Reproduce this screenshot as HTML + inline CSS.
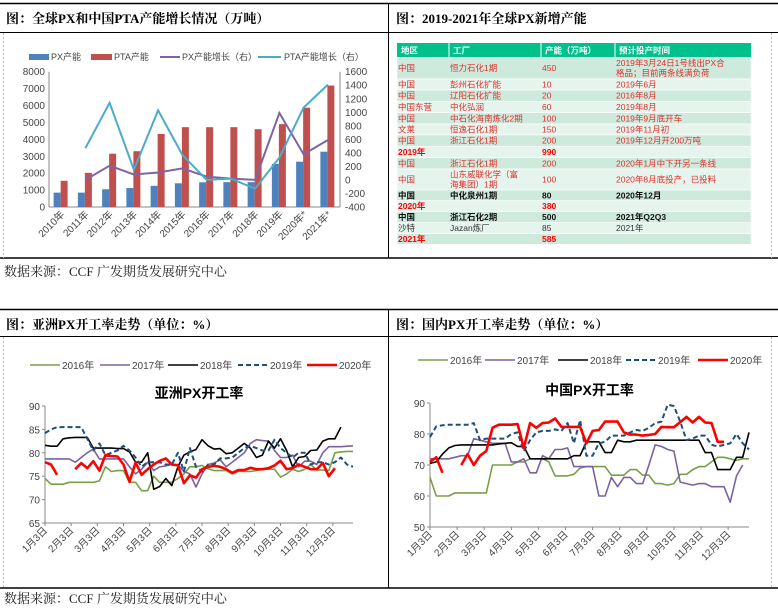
<!DOCTYPE html>
<html><head><meta charset="utf-8">
<style>
html,body{margin:0;padding:0;background:#fff;width:778px;height:608px;overflow:hidden;}
svg{display:block;font-family:"Liberation Sans","Noto Sans CJK SC",sans-serif;}
.ttl{font-family:"Liberation Serif","Noto Serif CJK SC",serif;font-weight:bold;font-size:13px;fill:#000;}
.src{font-family:"Liberation Serif","Noto Serif CJK SC",serif;font-size:13px;fill:#222;}
.tk{font-size:10px;fill:#444;}
.lg{font-size:9px;fill:#444;}
.tb{font-size:8.5px;}
</style></head>
<body>
<svg id="root" width="778" height="608" viewBox="0 0 778 608" xmlns="http://www.w3.org/2000/svg">
<g stroke="#000" fill="none">
<line x1="0" y1="3.5" x2="778" y2="3.5" stroke-width="1.5"/>
<line x1="0" y1="32.5" x2="778" y2="32.5"/>
<line x1="0" y1="258" x2="778" y2="258" stroke-width="1.5"/>
<line x1="388.5" y1="3" x2="388.5" y2="258"/>
<line x1="0" y1="309.5" x2="778" y2="309.5" stroke-width="1.5"/>
<line x1="0" y1="336.5" x2="778" y2="336.5"/>
<line x1="0" y1="588" x2="778" y2="588" stroke-width="1.5"/>
<line x1="388.5" y1="309" x2="388.5" y2="588"/>
<line x1="3.5" y1="33" x2="3.5" y2="258" stroke="#bbb" stroke-dasharray="2,2"/>
<line x1="771.5" y1="33" x2="771.5" y2="258" stroke="#bbb" stroke-dasharray="2,2"/>
<line x1="3.5" y1="337" x2="3.5" y2="588" stroke="#bbb" stroke-dasharray="2,2"/>
<line x1="771.5" y1="337" x2="771.5" y2="588" stroke="#bbb" stroke-dasharray="2,2"/>
</g>
<text class="ttl" x="6" y="23">图：全球PX和中国PTA产能增长情况（万吨）</text>
<text class="ttl" x="396" y="23">图：2019-2021年全球PX新增产能</text>
<text class="src" x="4" y="276">数据来源：CCF  广发期货发展研究中心</text>
<text class="ttl" x="6" y="329">图：亚洲PX开工率走势（单位：%）</text>
<text class="ttl" x="396" y="329">图：国内PX开工率走势（单位：%）</text>
<text class="src" x="4" y="603">数据来源：CCF  广发期货发展研究中心</text>
<g id="c1"></g>
<g id="tbl"></g>
<g id="c2"></g>
<g id="c3"></g>
</svg>
<script>
const NS="http://www.w3.org/2000/svg";
function mk(p,t,a,txt){const e=document.createElementNS(NS,t);for(const k in a)e.setAttribute(k,a[k]);if(txt!=null)e.textContent=txt;p.appendChild(e);return e;}

// ===== Chart 1 data =====
const years=["2010年","2011年","2012年","2013年","2014年","2015年","2016年","2017年","2018年","2019年","2020年*","2021年*"];
const pxCap=[850,850,1050,1120,1250,1400,1460,1470,1470,2550,2680,3270];
const ptaCap=[1550,2020,3150,3300,4320,4720,4720,4720,4600,4900,5870,7180];
const pxGrowth=[null,0,210,80,110,170,50,20,0,990,380,590];
const ptaGrowth=[null,470,1140,150,1030,370,0,20,-130,330,1070,1410];
const leftTicks=[0,1000,2000,3000,4000,5000,6000,7000,8000];
const rightTicks=[-400,-200,0,200,400,600,800,1000,1200,1400,1600];

(function(){
const g=document.getElementById('c1');
const L=49,R=340,T=71.7,B=207;
const yl=v=>B-(v/8000)*(B-T);
const yr=v=>B-((v+400)/2000)*(B-T);
const bw=(R-L)/years.length;
const xc=i=>L+bw*(i+0.5);
mk(g,'line',{x1:L,y1:T,x2:L,y2:B,stroke:'#888'});
mk(g,'line',{x1:R,y1:T,x2:R,y2:B,stroke:'#888'});
mk(g,'line',{x1:L,y1:B,x2:R,y2:B,stroke:'#888'});
leftTicks.forEach(v=>{const t=mk(g,'text',{x:L-4,y:yl(v)+3.5,'text-anchor':'end',class:'tk'},String(v));

});
rightTicks.forEach(v=>{const t=mk(g,'text',{x:R+5,y:yr(v)+3.5,class:'tk'},String(v));

});
years.forEach((y,i)=>{
 const b1=mk(g,'rect',{x:xc(i)-7.5,y:yl(pxCap[i]),width:7,height:B-yl(pxCap[i]),fill:'#4f81bd'});
 
 
 const b2=mk(g,'rect',{x:xc(i)-0.5,y:yl(ptaCap[i]),width:7,height:B-yl(ptaCap[i]),fill:'#c0504d'});
 
 
 const t=mk(g,'text',{x:xc(i)+4,y:B+8,'text-anchor':'end',class:'tk',transform:`rotate(-45 ${xc(i)+4} ${B+8})`},y);
 
 
});
function line(arr,col,name){let d='';arr.forEach((v,i)=>{if(v==null)return;d+=(d?'L':'M')+xc(i).toFixed(1)+','+yr(v).toFixed(1);});
 const p=mk(g,'path',{d:d,fill:'none',stroke:col,'stroke-width':2});
 
 }
line(pxGrowth,'#8064a2','px-growth-line');
line(ptaGrowth,'#4bacc6','pta-growth-line');
const lg=mk(g,'g',{});


mk(lg,'rect',{x:29,y:54,width:20,height:6,fill:'#4f81bd'});mk(lg,'text',{x:51,y:60,class:'lg'},'PX产能');
mk(lg,'rect',{x:91,y:54,width:21,height:6,fill:'#c0504d'});mk(lg,'text',{x:114,y:60,class:'lg'},'PTA产能');
mk(lg,'line',{x1:160,y1:57,x2:180,y2:57,stroke:'#8064a2','stroke-width':2});mk(lg,'text',{x:182,y:60,class:'lg'},'PX产能增长（右）');
mk(lg,'line',{x1:258,y1:57,x2:281,y2:57,stroke:'#4bacc6','stroke-width':2});mk(lg,'text',{x:284,y:60,class:'lg'},'PTA产能增长（右）');
})();

// ===== Table =====
const headers=["地区","工厂","产能（万吨）","预计投产时间"];
const rows=[
 [["中国","恒力石化1期","450","2019年3月24日1号线出PX合|格品；目前两条线满负荷"],"r"],
 [["中国","彭州石化扩能","10","2019年6月"],"r"],
 [["中国","辽阳石化扩能","20","2016年8月"],"r"],
 [["中国东营","中化弘润","60","2019年8月"],"r"],
 [["中国","中石化海南炼化2期","100","2019年9月底开车"],"r"],
 [["文莱","恒逸石化1期","150","2019年11月初"],"r"],
 [["中国","浙江石化1期","200","2019年12月开200万吨"],"r"],
 [["2019年","","990",""],"t"],
 [["中国","浙江石化1期","200","2020年1月中下开另一条线"],"r"],
 [["中国","山东威联化学（富|海集团）1期","100","2020年8月底投产，已投料"],"r"],
 [["中国","中化泉州1期","80","2020年12月"],"b"],
 [["2020年","","380",""],"t"],
 [["中国","浙江石化2期","500","2021年Q2Q3"],"b"],
 [["沙特","Jazan炼厂","85","2021年"],"k"],
 [["2021年","","585",""],"t"]
];
(function(){
const g=document.getElementById('tbl');
const cx=[397,449,541,615,751];
const ry=[43,57.3,79,90,101.3,112.7,124,135,146.3,157.7,169,190,200.7,211.7,222.7,233.7,244.3];
mk(g,'rect',{x:397,y:43,width:354,height:14.3,fill:'#00c08b'});
headers.forEach((h,i)=>{const t=mk(g,'text',{x:cx[i]+4,y:53.5,class:'tb',fill:'#fff','font-weight':'bold'},h);
 
 });
for(let i=1;i<4;i++)mk(g,'line',{x1:cx[i],y1:43,x2:cx[i],y2:57,stroke:'#fff'});
rows.forEach((r,ri)=>{
 const y0=ry[ri+1],y1=ry[ri+2];
 const row=mk(g,'g',{});
 
 
 mk(row,'rect',{x:397,y:y0,width:354,height:y1-y0,fill:ri%2==0?'#cdeadd':'#e6f4ee',stroke:'#fff','stroke-width':0.6});
 const st=r[1];
 const col=st=='r'?'#e0302a':st=='t'?'#ff0000':st=='b'?'#111':'#333';
 const fw=(st=='t'||st=='b')?'bold':'normal';
 r[0].forEach((c,ci)=>{
  const parts=c.split('|');
  const mid=(y0+y1)/2;
  parts.forEach((p,pi)=>{
   const yy=mid+3-(parts.length-1)*5+pi*10;
   mk(row,'text',{x:cx[ci]+1,y:yy,class:'tb',fill:col,'font-weight':fw},p);
  });
 });
});
})();

// ===== Asia operating rate data (weekly) =====
const monthLabels=["1月3日","2月3日","3月3日","4月3日","5月3日","6月3日","7月3日","8月3日","9月3日","10月3日","11月3日","12月3日"];
const seriesNames=["2016年","2017年","2018年","2019年","2020年"];
const asia2016=[74.5,73.3,73.3,73.3,73.7, 73.7,73.7,73.7,73.7, 74,77,76,76.2, 76.2,73.7,73.7,71.9,71.9, 75,73.7,73.7,73.7, 74.5,75.5,77,77, 77.3,76.6,76.2,76.2,76.2, 75.5,76,76,76, 76.2,76.5,76.5,76.5, 74.8,75.5,76.5,76,76.5, 77.5,76.3,76.3,76.2, 80,80.2,80.3,80.3];
const asia2017=[78.7,78.7,78.7,78.7,78.7, 78,79,80,80.8, 78.7,78.7,78.7,78.7, 78.7,77,75.5,76.5,78, 76.2,77,77.2,77.5, 77.5,76,75.5,72.7, 75.5,77.5,77.8,78.5,77, 78,79,80,82, 82.8,82.6,82.5,80.5, 79,79,79.5,77,78.2, 78.2,77.5,80,81.3, 81.3,81.3,81.4,81.5];
const asia2018=[81.6,81.4,81.4,83,83.2, 83.3,83.3,83.3,81, 81,81,81,80.9, 80.9,80.2,78,78,80, 72.2,72.8,74.5,73, 77,79.5,80.2,80.7, 82.8,81.5,80.8,80.9,79.8, 80,81,82,81, 79,79.5,82.5,81, 83,80.5,77,79,79.2, 80.5,80.6,82.5,83, 83,85.5,null,null];
const asia2019=[84.2,85,85.5,85.5,85.5, 85.5,85.5,83,80.5, 82,79.5,80,80.5, 81.5,80.5,79,77,78, 78,78,77.5,77.5, 80,76,81,77, 76,77.5,77.5,78.8,78.8, 79,80,81,81.5, 81,80.5,80.5,82.8, 81,80,79,80,80, 77.5,78,78,77.5, 78,79,77.5,77];
const asia2020=[78,77.5,75.3,null,null, 76.5,77.8,76.7,78.2, 76.2,79.5,79.3,79.2, 77.5,73.8,77.9,75.3,76.5, 77.5,78.3,78.8,77.5, 77.3,73.5,75.2,74.7, 76.5,77,77.2,77,76.5, 75.7,76.3,76.3,76.8, 76.5,76.5,76.7,77.3, 78.3,76.5,76.7,77.5,77, 76.5,76.5,77.8,75, 76.7,null,null,null];
const asiaTicks=[65,70,75,80,85,90];

// ===== China operating rate data (weekly) =====
const china2016=[66,60,60,60,61, 61,61,61,61, 61,70,70,70, 70,71,71,72,72, 72,71,66.5,66.5, 66.5,67,69,69.5, 69.5,69.5,69.5,66.7,66.7, 66.7,68.5,68.5,66.7, 66.7,64,64,63.5, 64,67,67,68.5,69.5, 69.5,71,72.5,72.5, 72,71.5,72,72];
const china2017=[72,72,72,72,72.5, 73,73,78.5,78, 77.5,77,77,77, 71,71,72,67.5,67.5, 73,72,75,75, 75.5,69.5,69.5,69.5, 69.5,60,60,66,63, 66,66,64,64, 70,76.5,76,75, 74.5,64.5,64,63.5,64, 64,63,63,63, 58,66.5,70,null];
const china2018=[70.5,71,73.5,75.5,76.3, 76.5,76.5,76.5,76.5, 76.5,76.5,76.8,77, 77.2,76,76,72,72, 72,72,72,72, 72,73,73,77.5, 77.5,77.5,74,74,78, 77.5,77.5,78,78, 78,78,78,78, 78,78,78,78,78, 74,74,68.5,68.5, 68.5,72.5,72.5,80.5];
const china2019=[79,82.5,82.8,83,83, 83,83,83.5,78, 78.5,78.5,78.5,78.5, 80,80.5,74.5,78,80.5, 81,81,81.5,81, 83.5,77,84.5,73, 73,77,77.5,79.5,79.5, 79.5,80.5,81.3,81, 82,83.5,84,89.5, 89,84,78,78.5,79.5, 79.5,76.5,76,76.5, 77,80,77,75];
const china2020=[71,72.5,67.5,null,null, 70,73.5,70,73, 74.5,82,83,83, 83,83.2,75.5,83.5,82, 83.5,83.7,85,82.3, 82.3,82.3,82.3,77, 81,81.3,84,84,84, 80.5,79.8,79.8,79.5, 79.7,80,82.3,82.2, 82.2,83.8,85.5,83.7,85.5, 83.7,83.5,77.5,77.5, null,null,null,null];
const chinaTicks=[50,60,70,80,90];

const styles=[{c:'#77a046',w:1.6},{c:'#7b62a0',w:1.6},{c:'#000',w:1.6},{c:'#1f4e79',w:2,d:'5,3'},{c:'#ff0000',w:2.6}];

function rateChart(gid,L,R,T,B,ymin,ymax,ticks,series,title,legX,legY){
 const g=document.getElementById(gid);
 const n=52;
 const x=i=>L+(R-L)*i/(n-1);
 const y=v=>B-(v-ymin)/(ymax-ymin)*(B-T);
 mk(g,'line',{x1:L,y1:T,x2:L,y2:B,stroke:'#888'});
 mk(g,'line',{x1:L,y1:B,x2:R,y2:B,stroke:'#888'});
 ticks.forEach(v=>{mk(g,'line',{x1:L-3,y1:y(v),x2:L,y2:y(v),stroke:'#888'});
  const t=mk(g,'text',{x:L-5,y:y(v)+4,'text-anchor':'end',class:'tk','font-size':11},String(v));
  
  });
 monthLabels.forEach((m,i)=>{const xi=x(i*52/12);
  mk(g,'line',{x1:xi,y1:B,x2:xi,y2:B+3,stroke:'#888'});
  const t=mk(g,'text',{x:xi+3,y:B+8,'text-anchor':'end',class:'tk','font-size':11,transform:`rotate(-45 ${xi+3} ${B+8})`},m);
  
  });
 series.forEach((arr,si)=>{
  let d='',pen=false;
  arr.forEach((v,i)=>{if(v==null){pen=false;return;}d+=(pen?'L':'M')+x(i).toFixed(1)+','+y(v).toFixed(1);pen=true;});
  const s=styles[si];
  const p=mk(g,'path',{d:d,fill:'none',stroke:s.c,'stroke-width':s.w,'stroke-linejoin':'round'});
  if(s.d)p.setAttribute('stroke-dasharray',s.d);
  
  
 });
 const tt=mk(g,'text',{x:(L+R)/2,y:T-8,'text-anchor':'middle','font-size':14,'font-weight':'bold',fill:'#000'},title);
 
 
 seriesNames.forEach((nm,si)=>{const s=styles[si];const lx=legX[si];
  const lg=mk(g,'g',{});
  
  
  const l=mk(lg,'line',{x1:lx,y1:legY,x2:lx+30,y2:legY,stroke:s.c,'stroke-width':s.w});
  if(s.d)l.setAttribute('stroke-dasharray',s.d);
  mk(lg,'text',{x:lx+32,y:legY+4,class:'tk','font-size':10.5},nm);
 });
}
rateChart('c2',45,353,406,523,65,90,asiaTicks,[asia2016,asia2017,asia2018,asia2019,asia2020],'亚洲PX开工率',[30,100,168,238,307],365);
rateChart('c3',430,749,403,527,50,90,chinaTicks,[china2016,china2017,china2018,china2019,china2020],'中国PX开工率',[418,485,558,626,698],360);
</script>
</body></html>
